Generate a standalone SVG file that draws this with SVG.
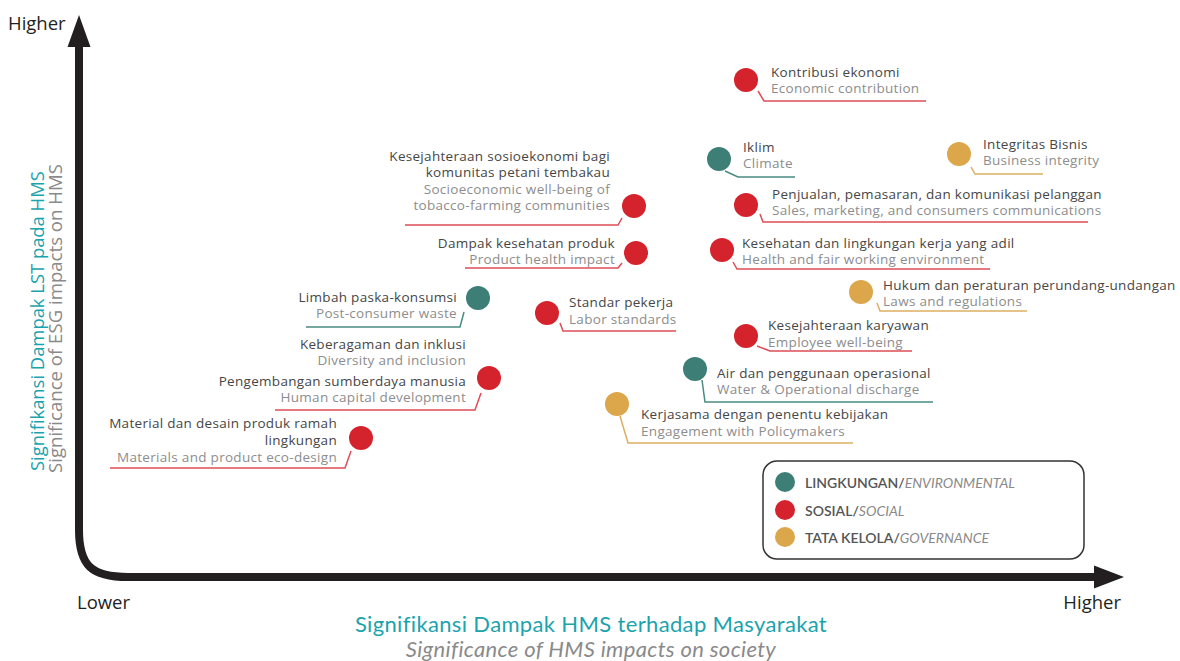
<svg xmlns="http://www.w3.org/2000/svg" width="1180" height="661" viewBox="0 0 1180 661">
<style>
.t{font-family:"Open Sans","Noto Sans",sans-serif;font-size:13.5px;letter-spacing:0.3px;fill:#464646}
.t2{fill:#8d8d8d}
.e{text-anchor:end}
.cr{fill:#d4232d}.cg{fill:#3d7f77}.cy{fill:#dca64b}
.lr{fill:none;stroke:#de4c56;stroke-width:1.5}
.lg{fill:none;stroke:#4a8a82;stroke-width:1.5}
.ly{fill:none;stroke:#dcae62;stroke-width:1.5}
.ax{font-family:"Open Sans","Noto Sans",sans-serif;font-size:18.5px;fill:#231f20}
.lgd{font-family:Lato,"Open Sans",sans-serif;font-size:14px;font-weight:600;fill:#555}
.lgi{font-style:italic;font-weight:400;fill:#8a8a8a}
.bt{font-family:Lato,"Open Sans",sans-serif;font-size:22px;letter-spacing:0.35px;text-anchor:middle}
</style>
<rect width="1180" height="661" fill="#ffffff"/>
<g id="axes">
<path d="M79,44 V530 C79,566 92,577 128,577 H1098" fill="none" stroke="#231f20" stroke-width="8"/>
<polygon points="79,15 67.5,47 90.5,47" fill="#231f20"/>
<polygon points="1124,577 1094,565.5 1094,588.5" fill="#231f20"/>
<text class="ax" x="8" y="30">Higher</text>
<text class="ax" x="77" y="609">Lower</text>
<text class="ax" x="1121" y="609" text-anchor="end">Higher</text>
<text class="bt" x="591" y="632" fill="#1ba3ad">Signifikansi Dampak HMS terhadap Masyarakat</text>
<text class="bt" x="591" y="657" font-style="italic" fill="#8a8a8a">Significance of HMS impacts on society</text>
<text transform="translate(44,471) rotate(-90)" font-family="'Open Sans','Noto Sans',sans-serif" font-size="18.4" fill="#1ba3ad">Signifikansi Dampak LST pada HMS</text>
<text transform="translate(62,473) rotate(-90)" font-family="'Open Sans','Noto Sans',sans-serif" font-size="18.6" fill="#8a8a8a">Significance of ESG impacts on HMS</text>
</g>
<g id="connectors">
<polyline class="lr" points="758,91 764,101 926,101"/>
<polyline class="lg" points="725,171 738,177 795,177"/>
<polyline class="ly" points="971,167 975,174 1043,174"/>
<polyline class="lr" points="405,225 618,225 622,218"/>
<polyline class="lr" points="760,214 763,222 1088,222"/>
<polyline class="lr" points="465,268 618,268 622,263"/>
<polyline class="lr" points="733,262 737,269 990,269"/>
<polyline class="ly" points="877,303 880,311 1027,311"/>
<polyline class="lg" points="306,327 460,327 464,312"/>
<polyline class="lr" points="560,323 563,331 676,331"/>
<polyline class="lr" points="757,346 770,351 912,351"/>
<polyline class="lr" points="275,410 475,410 481,393"/>
<polyline class="lg" points="702,380 705,402 933,402"/>
<polyline class="ly" points="620,416 628,443 853,443"/>
<polyline class="lr" points="110,468 345,468 351,451"/>
</g>
<g id="n-kontribusi"><circle class="cr" cx="746" cy="80" r="12"/><text class="t"><tspan x="771" y="77">Kontribusi ekonomi</tspan><tspan class="t2" x="771" y="93">Economic contribution</tspan></text></g>
<g id="n-iklim"><circle class="cg" cx="719" cy="159" r="12"/><text class="t"><tspan x="743" y="152">Iklim</tspan><tspan class="t2" x="743" y="168">Climate</tspan></text></g>
<g id="n-integritas"><circle class="cy" cx="959" cy="154" r="12"/><text class="t"><tspan x="983" y="149">Integritas Bisnis</tspan><tspan class="t2" x="983" y="165">Business integrity</tspan></text></g>
<g id="n-sosioekonomi"><circle class="cr" cx="634" cy="206" r="12"/><text class="t e"><tspan x="610" y="161">Kesejahteraan sosioekonomi bagi</tspan><tspan x="610" y="177">komunitas petani tembakau</tspan><tspan class="t2" x="610" y="194">Socioeconomic well-being of</tspan><tspan class="t2" x="610" y="210">tobacco-farming communities</tspan></text></g>
<g id="n-penjualan"><circle class="cr" cx="746" cy="205" r="12"/><text class="t"><tspan x="772" y="199">Penjualan, pemasaran, dan komunikasi pelanggan</tspan><tspan class="t2" x="772" y="215">Sales, marketing, and consumers communications</tspan></text></g>
<g id="n-dampak"><circle class="cr" cx="636" cy="253" r="12"/><text class="t e"><tspan x="615" y="248">Dampak kesehatan produk</tspan><tspan class="t2" x="615" y="264">Product health impact</tspan></text></g>
<g id="n-kesehatan"><circle class="cr" cx="722" cy="250" r="12"/><text class="t"><tspan x="742" y="248">Kesehatan dan lingkungan kerja yang adil</tspan><tspan class="t2" x="742" y="264">Health and fair working environment</tspan></text></g>
<g id="n-hukum"><circle class="cy" cx="861" cy="292" r="12"/><text class="t"><tspan x="883" y="290">Hukum dan peraturan perundang-undangan</tspan><tspan class="t2" x="883" y="306">Laws and regulations</tspan></text></g>
<g id="n-limbah"><circle class="cg" cx="478" cy="298" r="12"/><text class="t e"><tspan x="457" y="302">Limbah paska-konsumsi</tspan><tspan class="t2" x="457" y="318">Post-consumer waste</tspan></text></g>
<g id="n-standar"><circle class="cr" cx="547" cy="313" r="12"/><text class="t"><tspan x="569" y="307">Standar pekerja</tspan><tspan class="t2" x="569" y="324">Labor standards</tspan></text></g>
<g id="n-karyawan"><circle class="cr" cx="746" cy="336" r="12"/><text class="t"><tspan x="768" y="330">Kesejahteraan karyawan</tspan><tspan class="t2" x="768" y="347">Employee well-being</tspan></text></g>
<g id="n-keberagaman"><circle class="cr" cx="489" cy="378" r="12"/><text class="t e"><tspan x="466" y="349">Keberagaman dan inklusi</tspan><tspan class="t2" x="466" y="365">Diversity and inclusion</tspan><tspan x="466" y="386">Pengembangan sumberdaya manusia</tspan><tspan class="t2" x="466" y="402">Human capital development</tspan></text></g>
<g id="n-air"><circle class="cg" cx="695" cy="369" r="12"/><text class="t"><tspan x="717" y="378">Air dan penggunaan operasional</tspan><tspan class="t2" x="717" y="394">Water &amp; Operational discharge</tspan></text></g>
<g id="n-kerjasama"><circle class="cy" cx="617" cy="404" r="12"/><text class="t"><tspan x="641" y="419">Kerjasama dengan penentu kebijakan</tspan><tspan class="t2" x="641" y="436">Engagement with Policymakers</tspan></text></g>
<g id="n-material"><circle class="cr" cx="361" cy="438" r="12"/><text class="t e"><tspan x="337" y="428">Material dan desain produk ramah</tspan><tspan x="337" y="445">lingkungan</tspan><tspan class="t2" x="337" y="462">Materials and product eco-design</tspan></text></g>
<g id="legend">
<rect x="763" y="461" width="321" height="98" rx="14" fill="#ffffff" stroke="#333333" stroke-width="1.5"/>
<circle class="cg" cx="785" cy="482" r="10"/><text class="lgd" x="805" y="487.5">LINGKUNGAN/<tspan class="lgi">ENVIRONMENTAL</tspan></text>
<circle class="cr" cx="785" cy="510" r="10"/><text class="lgd" x="805" y="515.5">SOSIAL/<tspan class="lgi">SOCIAL</tspan></text>
<circle class="cy" cx="785" cy="537" r="10"/><text class="lgd" x="805" y="542.5">TATA KELOLA/<tspan class="lgi">GOVERNANCE</tspan></text>
</g>
</svg>
